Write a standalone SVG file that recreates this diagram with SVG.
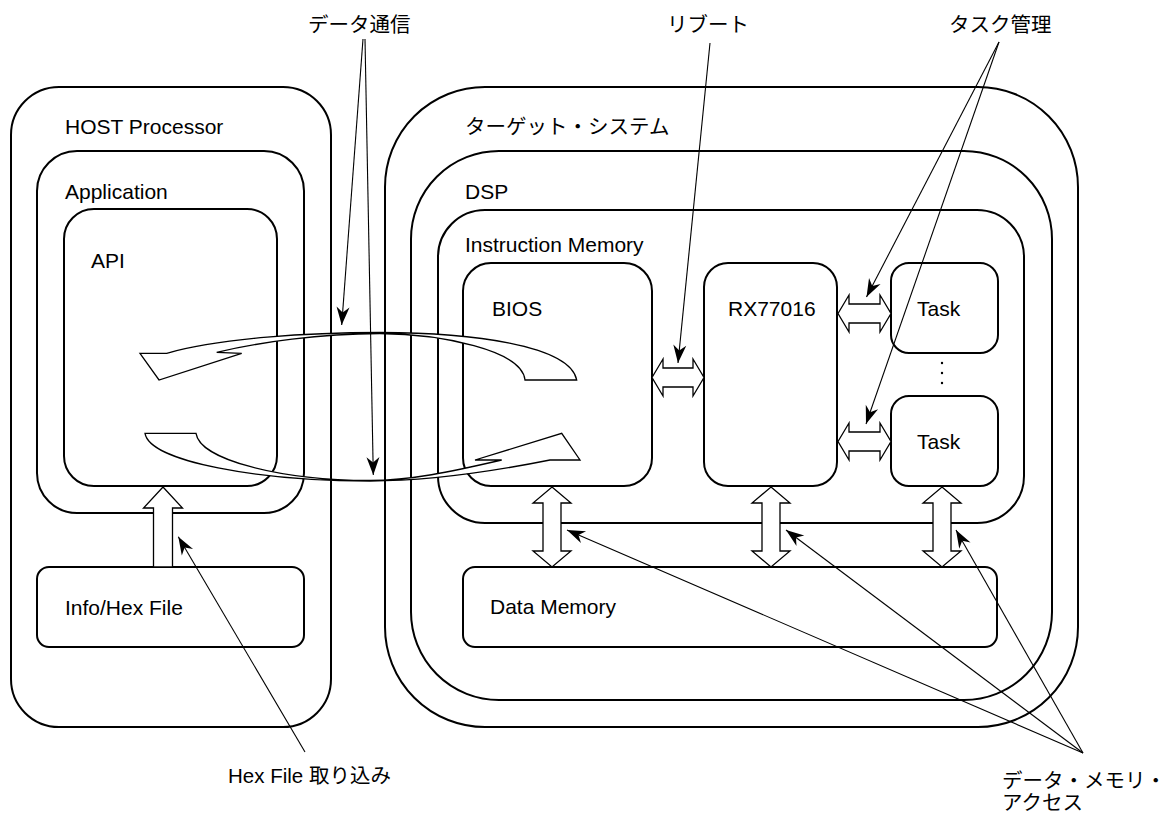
<svg xmlns="http://www.w3.org/2000/svg" width="1172" height="819" viewBox="0 0 1172 819">
  <style>
    .box { fill: none; stroke: #000; stroke-width: 2; }
    .blk { fill: #fff; stroke: #000; stroke-width: 1.3; stroke-linejoin: miter; }
    .lead { fill: none; stroke: #000; stroke-width: 1.1; marker-end: url(#ah); }
    .t { font-family: "Liberation Sans", Arial, "Noto Sans CJK JP", sans-serif; font-size: 21px; fill: #000; }
    .j { font-size: 20.5px; }
  </style>
  <defs>
    <marker id="ah" viewBox="-19 -8 20 16" refX="0" refY="0" markerWidth="20" markerHeight="16" orient="auto" markerUnits="userSpaceOnUse">
      <path d="M0,0 L-18,-6.5 L-12.5,0 L-18,6.5 Z" fill="#000"/>
    </marker>
  </defs>
  <rect width="1172" height="819" fill="#fff"/>

  <!-- host side -->
  <g id="host">
    <rect class="box" x="11" y="87" width="320" height="640" rx="48"/>
    <text class="t" x="65" y="134">HOST Processor</text>
  </g>
  <g id="application">
    <rect class="box" x="37" y="151" width="267" height="362" rx="40"/>
    <text class="t" x="65" y="199">Application</text>
  </g>
  <g id="api">
    <rect class="box" x="64" y="209" width="213" height="277" rx="30"/>
    <text class="t" x="91" y="268">API</text>
  </g>
  <g id="infohex">
    <rect class="box" x="37" y="567" width="267" height="80" rx="12"/>
    <text class="t" x="65" y="615">Info/Hex File</text>
  </g>

  <!-- target side -->
  <g id="target">
    <rect class="box" x="385" y="87" width="693" height="640" rx="100"/>
    <text class="t j" x="465" y="134">ターゲット・システム</text>
  </g>
  <g id="dsp">
    <rect class="box" x="411" y="151" width="641" height="549" rx="88"/>
    <text class="t" x="465" y="199">DSP</text>
  </g>
  <g id="imem">
    <rect class="box" x="438" y="210" width="586" height="313" rx="47"/>
    <text class="t" x="465" y="252">Instruction Memory</text>
  </g>
  <g id="bios">
    <rect class="box" x="463" y="263" width="189" height="223" rx="28"/>
    <text class="t" x="492" y="316">BIOS</text>
  </g>
  <g id="rx">
    <rect class="box" x="704" y="263" width="133" height="223" rx="24"/>
    <text class="t" x="728" y="316">RX77016</text>
  </g>
  <g id="task1">
    <rect class="box" x="891" y="263" width="107" height="90" rx="18"/>
    <text class="t" x="917" y="316">Task</text>
  </g>
  <g id="task2">
    <rect class="box" x="891" y="396" width="107" height="90" rx="18"/>
    <text class="t" x="917" y="449">Task</text>
  </g>
  <g id="ellipsis">
    <circle cx="942" cy="363" r="1.2"/>
    <circle cx="942" cy="373" r="1.2"/>
    <circle cx="942" cy="383" r="1.2"/>
  </g>
  <g id="dmem">
    <rect class="box" x="463" y="567" width="534" height="80" rx="12"/>
    <text class="t" x="490" y="614">Data Memory</text>
  </g>

  <!-- connectors -->
  <g id="connectors">
    <!-- curved data-exchange arrows -->
    <path class="blk" d="M140,353.3 L166.7,353.3 C220,338 310,332.5 380,332.5 C470,332.5 570,345 576.7,380 L525,380 C522,350 440,334 380,333.5 C320,334 260,342 216.7,352.3 L241.7,353.3 L159,380 Z"/>
    <path class="blk" d="M145,433.3 L196,433.3 C200,460 280,480 370,480.5 C410,480.5 450,472 501.7,460 L475,460 L561.7,433.3 L580,460 L550,460 C500,470 430,481 370,481 C260,481 150,462 145,433.3 Z"/>

    <!-- file load -->
    <path class="blk" d="M163,487 L182.5,508 L172.5,508 L172.5,567 L153.5,567 L153.5,508 L143.5,508 Z"/>

    <!-- horizontal links -->
    <path class="blk" d="M652,377.5 L663,359 L663,368 L693,368 L693,359 L704,377.5 L693,396 L693,387 L663,387 L663,396 Z"/>
    <path class="blk" d="M838,313.5 L849,295 L849,304 L880,304 L880,295 L891,313.5 L880,332 L880,323 L849,323 L849,332 Z"/>
    <path class="blk" d="M838,441.5 L849,423 L849,432 L880,432 L880,423 L891,441.5 L880,460 L880,451 L849,451 L849,460 Z"/>

    <!-- memory links -->
    <path class="blk" d="M552,487 L571,503 L561,503 L561,551 L571,551 L552,567 L533,551 L543,551 L543,503 L533,503 Z"/>
    <path class="blk" d="M771,487 L790,503 L780,503 L780,551 L790,551 L771,567 L752,551 L762,551 L762,503 L752,503 Z"/>
    <path class="blk" d="M942,487 L961,503 L951,503 L951,551 L961,551 L942,567 L923,551 L933,551 L933,503 L923,503 Z"/>

    <!-- callout leaders -->
    <line class="lead" x1="363" y1="39" x2="341.7" y2="325"/>
    <line class="lead" x1="365" y1="39" x2="373.3" y2="475"/>
    <line class="lead" x1="710" y1="43" x2="678" y2="363"/>
    <line class="lead" x1="999" y1="42" x2="866.5" y2="297"/>
    <line class="lead" x1="999" y1="42" x2="866" y2="424"/>
    <line class="lead" x1="305" y1="752" x2="178.3" y2="536.7"/>
    <line class="lead" x1="1083" y1="753" x2="567" y2="530"/>
    <line class="lead" x1="1083" y1="753" x2="786" y2="530"/>
    <line class="lead" x1="1083" y1="753" x2="956" y2="530"/>
  </g>

  <!-- callout labels -->
  <g id="labels">
    <text class="t j" x="308" y="32">データ通信</text>
    <text class="t j" x="667" y="32">リブート</text>
    <text class="t j" x="949" y="32">タスク管理</text>
    <text class="t j" x="228" y="783">Hex File 取り込み</text>
    <text class="t j" x="1002" y="788">データ・メモリ・</text>
    <text class="t j" x="1002" y="810">アクセス</text>
  </g>
</svg>
